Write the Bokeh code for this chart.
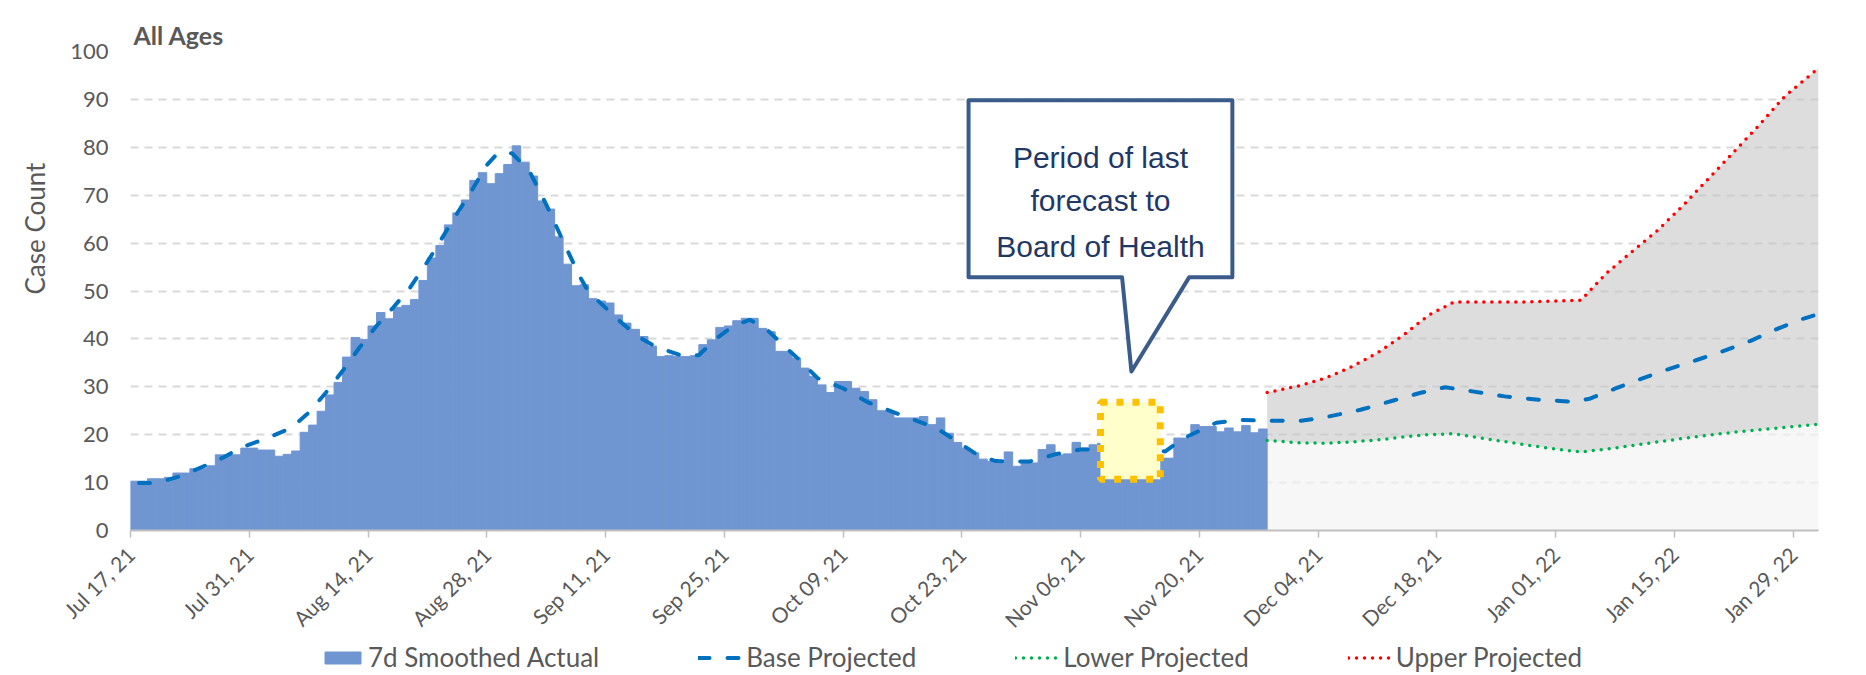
import pandas as pd
from math import pi
from bokeh.plotting import figure
from bokeh.layouts import column
from bokeh.models import (ColumnDataSource, Range1d, FixedTicker, SingleIntervalTicker,
                          DatetimeTickFormatter, Label, Legend, LegendItem, Title)
from bokeh.embed import file_html
from bokeh.resources import INLINE

# ---------------- data ----------------
first_day = "2021-07-17"
actual_7d = [
    10.3, 10.3, 10.8, 10.8, 11.1, 12.0, 12.0, 12.9, 12.9, 13.5,
    15.8, 15.8, 15.8, 17.2, 17.2, 16.8, 16.8, 15.5, 15.9, 16.6,
    20.5, 22.0, 24.9, 28.3, 30.9, 36.2, 40.3, 39.9, 42.7, 45.5,
    44.2, 46.6, 47.0, 48.2, 52.2, 56.9, 59.5, 63.8, 66.3, 69.0,
    73.1, 74.7, 72.4, 74.5, 76.4, 80.3, 76.9, 74.0, 68.8, 67.1,
    61.3, 55.6, 51.1, 51.3, 48.4, 47.9, 47.5, 45.0, 43.3, 42.0,
    40.5, 38.5, 36.3, 36.5, 36.3, 36.3, 36.5, 38.8, 39.8, 42.4,
    42.7, 43.8, 44.3, 44.3, 42.2, 41.5, 37.4, 37.4, 36.0, 33.9,
    32.2, 30.4, 28.8, 31.1, 31.1, 29.7, 29.0, 27.3, 25.0, 25.0,
    23.5, 23.5, 23.5, 23.8, 22.1, 23.5, 20.3, 18.4, 17.2, 16.2,
    14.9, 14.4, 14.4, 16.4, 13.4, 14.1, 14.1, 16.9, 17.9, 15.8,
    16.0, 18.4, 17.2, 17.9, 18.2, 18.5, 18.0, 17.4, 16.8, 16.0,
    15.5, 15.1, 15.1, 19.3, 19.3, 22.1, 21.7, 21.7, 20.6, 21.4,
    20.6, 21.9, 20.4, 21.2,
]

base_dates = [
    "2021-07-18", "2021-07-20", "2021-07-23", "2021-07-26", "2021-07-28", "2021-07-30",
    "2021-08-02", "2021-08-04", "2021-08-05", "2021-08-07", "2021-08-09", "2021-08-11",
    "2021-08-13", "2021-08-15", "2021-08-17", "2021-08-19", "2021-08-21", "2021-08-22",
    "2021-08-24", "2021-08-26", "2021-08-28", "2021-08-29", "2021-08-30", "2021-08-31",
    "2021-09-02", "2021-09-04", "2021-09-06", "2021-09-08", "2021-09-09", "2021-09-11",
    "2021-09-13", "2021-09-15", "2021-09-17", "2021-09-20", "2021-09-22", "2021-09-24",
    "2021-09-26", "2021-09-28", "2021-09-30", "2021-10-02", "2021-10-04", "2021-10-06",
    "2021-10-09", "2021-10-12", "2021-10-16", "2021-10-20", "2021-10-22", "2021-10-25",
    "2021-10-27", "2021-10-31", "2021-11-03", "2021-11-06", "2021-11-11", "2021-11-16",
    "2021-11-18", "2021-11-22", "2021-11-25", "2021-11-28",
    "2021-12-02", "2021-12-05", "2021-12-09", "2021-12-13", "2021-12-16", "2021-12-19",
    "2021-12-22", "2021-12-26", "2021-12-30", "2022-01-03", "2022-01-05", "2022-01-08",
    "2022-01-11", "2022-01-14", "2022-01-18", "2022-01-21", "2022-01-24", "2022-01-27",
    "2022-01-30", "2022-02-01",
]
base_values = [
    9.9, 9.9, 11.4, 13.7, 15.3, 17.3,
    19.2, 20.7, 21.5, 24.6, 28.7, 33.3,
    38.2, 42.7, 46.6, 50.8, 56.1, 58.9,
    64.8, 70.3, 76.3, 78.2, 79.2, 78.7,
    75.1, 68.1, 60.4, 52.9, 49.8, 46.5,
    43.2, 40.3, 38.3, 36.5, 36.6, 40.0,
    42.6, 44.0, 42.0, 38.6, 35.4, 31.8,
    29.7, 26.7, 24.0, 21.4, 19.1, 15.6,
    14.5, 14.4, 15.9, 16.9, 17.0, 16.5,
    19.1, 22.5, 23.1, 22.9,
    22.9, 23.7, 25.2, 27.2, 28.7, 29.9,
    29.1, 28.0, 27.3, 26.9, 27.5, 29.6,
    31.6, 33.5, 35.8, 37.6, 39.6, 42.0,
    44.1, 45.2,
]

proj_dates = [
    "2021-11-28", "2021-12-02", "2021-12-05", "2021-12-08", "2021-12-11", "2021-12-14",
    "2021-12-17", "2021-12-20", "2021-12-24", "2021-12-28", "2022-01-01", "2022-01-04",
    "2022-01-07", "2022-01-10", "2022-01-13", "2022-01-16", "2022-01-19", "2022-01-22",
    "2022-01-25", "2022-01-28", "2022-02-01",
]
upper_values = [
    28.8, 30.3, 31.9, 34.2, 37.1, 40.7,
    44.9, 47.7, 47.7, 47.7, 47.9, 48.1,
    53.7, 58.2, 62.6, 67.8, 73.4, 79.0,
    84.6, 90.6, 96.5,
]
lower_values = [
    18.8, 18.3, 18.2, 18.5, 18.9, 19.5,
    20.0, 20.2, 19.1, 18.0, 17.0, 16.4,
    17.0, 17.7, 18.5, 19.2, 19.9, 20.5,
    21.0, 21.5, 22.2,
]

tick_dates = [
    "2021-07-17", "2021-07-31", "2021-08-14", "2021-08-28", "2021-09-11",
    "2021-09-25", "2021-10-09", "2021-10-23", "2021-11-06", "2021-11-20",
    "2021-12-04", "2021-12-18", "2022-01-01", "2022-01-15", "2022-01-29",
]
y_ticks_step = 10
legend_labels = ["7d Smoothed Actual", "Base Projected", "Lower Projected", "Upper Projected"]

# ---------------- helpers ----------------
DAY = 86400000.0


def ms(s):
    return pd.Timestamp(s).value / 1e6


def day(d):
    """position d days after the first day (for annotations)"""
    return ms(first_day) + d * DAY


FONT = "Lato"
GREY_TEXT = "#595959"
BAR_COLOR = "#7096D2"
BAR_STYLE = dict(fill_color=BAR_COLOR, line_color=BAR_COLOR, line_width=1)
BASE_STYLE = dict(line_color="#0070C0", line_width=4, line_dash="11 18", line_cap="round")
LOWER_STYLE = dict(line_color="#00B050", line_width=3.5, line_dash="0 8", line_cap="round")
UPPER_STYLE = dict(line_color="#FF0000", line_width=3.5, line_dash="0 8", line_cap="round")

actual_dates = pd.date_range(first_day, periods=len(actual_7d), freq="D")
bar_src = ColumnDataSource(dict(
    x=[ms(d) + DAY / 2 for d in actual_dates],
    top=actual_7d,
))
base_src = ColumnDataSource(dict(x=[ms(d) for d in base_dates], y=base_values))
proj_src = ColumnDataSource(dict(
    x=[ms(d) for d in proj_dates],
    upper=upper_values,
    lower=lower_values,
    zero=[0] * len(proj_dates),
))

LEGEND_H = 32
x_start, x_end = ms("2021-07-17"), ms("2022-02-01")
p = figure(
    width=1866, height=675 - LEGEND_H,
    x_axis_type="datetime",
    x_range=Range1d(x_start, x_end),
    y_range=Range1d(0, 100),
    output_backend="svg", toolbar_location=None,
    min_border_left=127, min_border_right=48, min_border_top=51,
    min_border_bottom=675 - LEGEND_H - 531,
)
p.outline_line_color = None
p.background_fill_color = "white"
p.border_fill_color = "white"

# title "All Ages"
p.title.text = "All Ages"
p.title.align = "left"
p.title.offset = 3
p.title.standoff = 0
p.title.vertical_align = "top"
p.title.text_font = FONT
p.title.text_font_style = "bold"
p.title.text_font_size = "25px"
p.title.text_color = GREY_TEXT

# y axis title (placed like the original, off-centre)
p.add_layout(Title(text="Case Count", align="left", offset=236, standoff=33,
                   text_font=FONT, text_font_style="normal", text_font_size="26px",
                   text_color=GREY_TEXT), "left")

# grid
p.xgrid.visible = False
p.ygrid.grid_line_color = "#D9D9D9"
p.ygrid.grid_line_width = 2
p.ygrid.grid_line_dash = "8 6"

# y axis
p.yaxis.ticker = SingleIntervalTicker(interval=y_ticks_step, num_minor_ticks=0)
p.yaxis.axis_line_color = None
p.yaxis.major_tick_line_color = None
p.yaxis.minor_tick_line_color = None
p.yaxis.major_tick_out = 0
p.yaxis.major_tick_in = 0
p.yaxis.major_label_standoff = 22
p.yaxis.major_label_text_font = FONT
p.yaxis.major_label_text_font_size = "22px"
p.yaxis.major_label_text_color = GREY_TEXT

# x axis
fmt = "%b %d, %y"
p.xaxis.ticker = FixedTicker(ticks=[ms(d) for d in tick_dates])
p.xaxis.formatter = DatetimeTickFormatter(
    microseconds=fmt, milliseconds=fmt, seconds=fmt, minsec=fmt, minutes=fmt,
    hourmin=fmt, hours=fmt, days=fmt, months=fmt, years=fmt,
    strip_leading_zeros=False,
)
p.xaxis.major_label_orientation = pi / 4
p.xaxis.major_label_text_font = FONT
p.xaxis.major_label_text_font_size = "21px"
p.xaxis.major_label_text_line_height = 1.0
p.xaxis.major_label_text_color = GREY_TEXT
p.xaxis.axis_line_color = "#BFBFBF"
p.xaxis.axis_line_width = 2
p.xaxis.major_tick_line_color = "#BFBFBF"
p.xaxis.major_tick_line_width = 1.5
p.xaxis.major_tick_out = 7
p.xaxis.major_tick_in = 0
p.xaxis.minor_tick_line_color = None
p.xaxis.major_label_standoff = 13

# projection shading
p.varea(x="x", y1="zero", y2="lower", source=proj_src,
        fill_color="#F3F3F3", fill_alpha=0.68)
p.varea(x="x", y1="lower", y2="upper", source=proj_src,
        fill_color="#C4C4C4", fill_alpha=0.58)

# actual bars
p.vbar(x="x", top="top", width=DAY, source=bar_src, **BAR_STYLE)

# projected lines
p.line(x="x", y="y", source=base_src, **BASE_STYLE)
p.line(x="x", y="lower", source=proj_src, **LOWER_STYLE)
p.line(x="x", y="upper", source=proj_src, **UPPER_STYLE)

# highlighted period (yellow dotted box)
p.quad(left=[day(114.35)], right=[day(121.4)], top=[26.8], bottom=[10.7],
       fill_color="#FFFFCC", line_color="#FFC000", line_width=7, line_dash="7 9")

# callout
cx = [day(98.8), day(129.9), day(129.9), day(124.8), day(118.0), day(116.9), day(98.8)]
cy = [89.8, 89.8, 52.85, 52.85, 33.2, 52.85, 52.85]
p.patch(cx, cy, fill_color="white", line_color="#3B5B8A", line_width=4, line_join="round")
for txt, yy in [("Period of last", 77.85), ("forecast to", 68.8), ("Board of Health", 59.25)]:
    p.add_layout(Label(x=day(114.35), y=yy, text=txt, text_align="center",
                       text_baseline="alphabetic", text_font="Liberation Sans",
                       text_font_size="30px", text_color="#1F3864"))

# ---------------- legend strip ----------------
# swatch renderers only carry the series' styles; their single row is NaN so
# nothing is drawn in the strip itself
lf = figure(width=1866, height=LEGEND_H, x_range=Range1d(x_start, x_end),
            y_range=Range1d(0, 1),
            output_backend="svg", toolbar_location=None, min_border=0,
            x_axis_location=None, y_axis_location=None)
lf.outline_line_color = None
lf.grid.visible = False
lf.background_fill_color = "white"
lf.border_fill_color = "white"
nan = float("nan")
swatch = ColumnDataSource(dict(x=[nan], y=[nan], top=[nan]))
r_bar = lf.vbar(x="x", top="top", width=DAY, source=swatch, **BAR_STYLE)
r_base = lf.line(x="x", y="y", source=swatch, **BASE_STYLE)
r_lower = lf.line(x="x", y="y", source=swatch, **LOWER_STYLE)
r_upper = lf.line(x="x", y="y", source=swatch, **UPPER_STYLE)

legend = Legend(
    items=[LegendItem(label=lab, renderers=[r])
           for lab, r in zip(legend_labels, [r_bar, r_base, r_lower, r_upper])],
    location=(190, 2), orientation="horizontal",
    glyph_width=45, glyph_height=15, label_height=26, label_standoff=3,
    padding=0, margin=0, spacing=99,
    border_line_color=None, background_fill_alpha=0,
    label_text_font=FONT, label_text_font_size="26px",
    label_text_color=GREY_TEXT, label_text_baseline="middle",
)
lf.add_layout(legend)

layout = column(p, lf, spacing=0)
open("out.html", "w").write(file_html(layout, INLINE))
